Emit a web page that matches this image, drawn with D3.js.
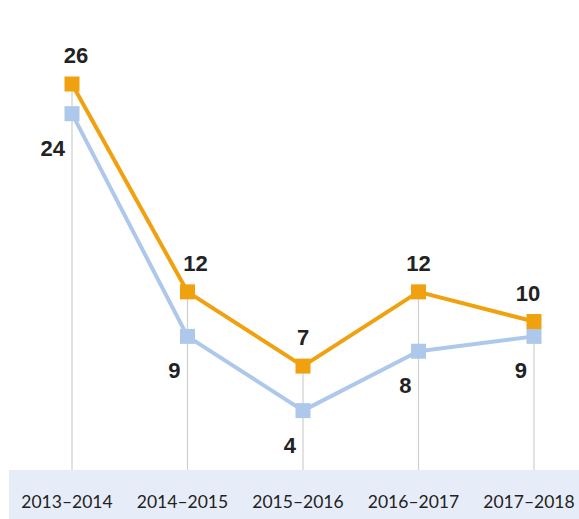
<!DOCTYPE html>
<html><head><meta charset="utf-8">
<script src="https://cdn.jsdelivr.net/npm/d3@7"></script>
<style>body{margin:0;background:#fff}svg{display:block}</style>
</head><body><svg id="c" width="579" height="519"></svg>
<script>
const categories = ["2013–2014","2014–2015","2015–2016","2016–2017","2017–2018"];
const seriesOrange = [26,12,7,12,10];
const seriesBlue = [24,9,4,8,9];

const svg = d3.select("#c");
const W = 579, H = 519;
const x = d3.scalePoint().domain(categories).range([72, 534]);
const y = d3.scaleLinear().domain([0, 26]).range([470, 84]);

// bottom band
svg.append("rect").attr("x", 9).attr("y", y(0)).attr("width", W - 9).attr("height", H - y(0)).attr("fill", "#E7EDF8");

// vertical drop lines
categories.forEach((c, i) => {
  const top = Math.min(y(seriesOrange[i]), y(seriesBlue[i]));
  svg.append("line").attr("x1", x(c)).attr("x2", x(c)).attr("y1", top).attr("y2", y(0))
    .attr("stroke", "#CFCFCF").attr("stroke-width", 1.2);
});

const line = d3.line().x((d, i) => x(categories[i])).y(d => y(d));
const ms = 15;
function drawSeries(data, color) {
  svg.append("path").datum(data).attr("d", line).attr("fill", "none").attr("stroke", color).attr("stroke-width", 4).attr("stroke-linejoin", "round");
  svg.selectAll(null).data(data).enter().append("rect")
    .attr("x", (d, i) => x(categories[i]) - ms / 2).attr("y", d => y(d) - ms / 2)
    .attr("width", ms).attr("height", ms).attr("fill", color);
}
drawSeries(seriesBlue, "#AEC8EB");
drawSeries(seriesOrange, "#F0A10F");

const lblFont = "'Liberation Sans', Arial, sans-serif";
// orange labels above
svg.selectAll(null).data(seriesOrange).enter().append("text")
  .attr("x", (d, i) => x(categories[i]) + [4, 8, 0, 0, -6][i]).attr("y", d => y(d) - 21)
  .attr("text-anchor", "middle").attr("font-family", lblFont).attr("font-weight", "bold").attr("font-size", 22).attr("fill", "#222")
  .text(d => d);
// blue labels below-left
svg.selectAll(null).data(seriesBlue).enter().append("text")
  .attr("x", (d, i) => x(categories[i]) - 7).attr("y", d => y(d) + 42)
  .attr("text-anchor", "end").attr("font-family", lblFont).attr("font-weight", "bold").attr("font-size", 22).attr("fill", "#222")
  .text(d => d);

// category labels
svg.selectAll(null).data(categories).enter().append("text")
  .attr("x", c => x(c) - 5).attr("y", 508)
  .attr("text-anchor", "middle").attr("font-family", "Lato, 'Open Sans', sans-serif").attr("font-size", 17.5).attr("fill", "#222")
  .text(c => c);
</script></body></html>
